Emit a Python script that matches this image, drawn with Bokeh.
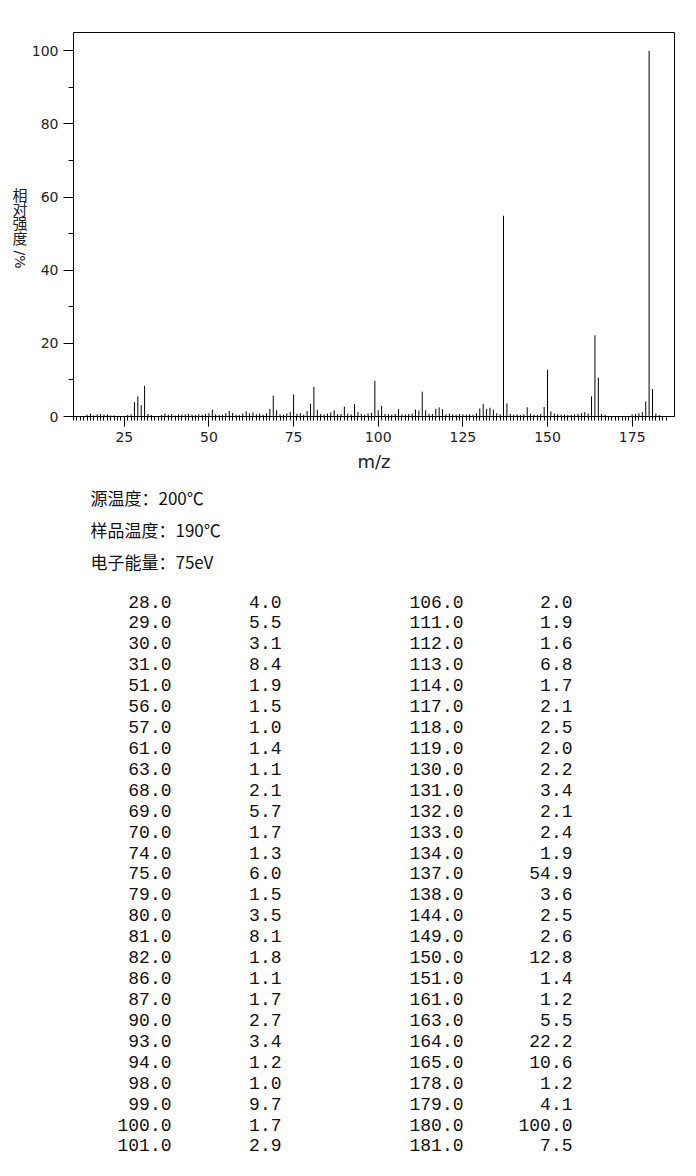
from bokeh.plotting import figure
from bokeh.models import Range1d, FixedTicker, ColumnDataSource
from bokeh.layouts import column, row
from bokeh.core.properties import value
from bokeh.embed import file_html
from bokeh.resources import INLINE

# ---- data ----
# listed peaks (m/z, relative intensity %)
mz_left = [28.0, 29.0, 30.0, 31.0, 51.0, 56.0, 57.0, 61.0, 63.0, 68.0, 69.0, 70.0, 74.0, 75.0,
           79.0, 80.0, 81.0, 82.0, 86.0, 87.0, 90.0, 93.0, 94.0, 98.0, 99.0, 100.0, 101.0]
int_left = [4.0, 5.5, 3.1, 8.4, 1.9, 1.5, 1.0, 1.4, 1.1, 2.1, 5.7, 1.7, 1.3, 6.0,
            1.5, 3.5, 8.1, 1.8, 1.1, 1.7, 2.7, 3.4, 1.2, 1.0, 9.7, 1.7, 2.9]
mz_right = [106.0, 111.0, 112.0, 113.0, 114.0, 117.0, 118.0, 119.0, 130.0, 131.0, 132.0, 133.0, 134.0, 137.0,
            138.0, 144.0, 149.0, 150.0, 151.0, 161.0, 163.0, 164.0, 165.0, 178.0, 179.0, 180.0, 181.0]
int_right = [2.0, 1.9, 1.6, 6.8, 1.7, 2.1, 2.5, 2.0, 2.2, 3.4, 2.1, 2.4, 1.9, 54.9,
             3.6, 2.5, 2.6, 12.8, 1.4, 1.2, 5.5, 22.2, 10.6, 1.2, 4.1, 100.0, 7.5]

# small unlisted peaks (< 1 %)
mz_minor = [14, 15, 16, 17, 18, 19, 20, 21, 22, 26, 27, 32, 33, 36, 37, 38, 39, 40, 41, 42, 43, 44,
            45, 46, 47, 48, 49, 50, 52, 53, 54, 55, 58, 59, 60, 62, 64, 65, 66, 67, 71, 72, 73, 76,
            77, 78, 83, 84, 85, 88, 89, 91, 92, 95, 96, 97, 102, 103, 104, 105, 107, 108, 109, 110,
            115, 116, 120, 121, 122, 123, 124, 125, 126, 127, 128, 129, 135, 136, 139, 140, 141,
            142, 143, 145, 146, 147, 148, 152, 153, 154, 155, 156, 157, 158, 159, 160, 162, 166,
            167, 175, 176, 177, 182, 183]
int_minor = [0.5, 0.8, 0.3, 0.6, 0.7, 0.5, 0.6, 0.3, 0.3, 0.4, 0.6, 0.7, 0.4, 0.4, 0.8, 0.5, 0.7, 0.3,
             0.6, 0.5, 0.6, 0.7, 0.5, 0.4, 0.6, 0.5, 0.7, 0.9, 0.6, 0.4, 0.5, 0.9, 0.5, 0.4, 0.8,
             0.9, 0.6, 0.8, 0.5, 0.9, 0.6, 0.5, 0.8, 0.7, 0.9, 0.5, 0.7, 0.6, 0.8, 0.6, 0.7, 0.8,
             0.6, 0.7, 0.5, 0.8, 0.7, 0.6, 0.5, 0.7, 0.6, 0.5, 0.7, 0.8, 0.8, 0.7, 0.6, 0.8, 0.6,
             0.5, 0.7, 0.6, 0.5, 0.6, 0.5, 0.9, 0.9, 0.6, 0.7, 0.5, 0.6, 0.4, 0.6, 0.8, 0.5, 0.4,
             0.7, 0.8, 0.6, 0.5, 0.5, 0.4, 0.5, 0.6, 0.7, 0.9, 0.8, 0.7, 0.5, 0.6, 0.7, 0.9, 0.8, 0.4]

x_major_ticks = [25, 50, 75, 100, 125, 150, 175]
y_major_ticks = [0, 20, 40, 60, 80, 100]
info_lines = ["源温度：200℃", "样品温度：190℃", "电子能量：75eV"]
y_label_chars = ["相", "对", "强", "度"]
y_label_tail = "/%"
x_label = "m/z"

# ---- layout constants (page pixels) ----
LEFT, RIGHT, TOP, BOTTOM = 73, 674, 32, 416
FIG_W = 690
P_H = 478
LW = 28          # width of the narrow panel holding the vertical y label
Y0, Y1 = 0, 105

# ---- y-label panel (shares the spectrum's y scale) ----
lab = figure(width=LW, height=P_H, output_backend="svg", toolbar_location=None,
             x_range=Range1d(0, LW), y_range=Range1d(Y0, Y1),
             min_border_left=0, min_border_right=0, min_border_top=TOP,
             min_border_bottom=P_H - BOTTOM, x_axis_location=None, y_axis_location=None)
lab.xgrid.visible = False
lab.ygrid.visible = False
lab.outline_line_color = None
px_per_unit = (BOTTOM - TOP) / (Y1 - Y0)
char_y = [(BOTTOM - (194 + i * 14.2)) / px_per_unit for i in range(len(y_label_chars))]
lab.text(x=[19.5] * len(y_label_chars), y=char_y, text=y_label_chars,
         text_font=value("Noto Sans CJK SC"), text_font_size="15px",
         text_align="center", text_baseline="middle", text_color="#222222")
lab.text(x=[19.5], y=[(BOTTOM - 259) / px_per_unit], text=[y_label_tail], angle=-1.5708,
         text_font=value("DejaVu Sans"), text_font_size="14px",
         text_align="center", text_baseline="middle", text_color="#222222")

# ---- spectrum figure ----
p = figure(width=FIG_W - LW, height=P_H, output_backend="svg", toolbar_location=None,
           x_range=Range1d(10, 187.5), y_range=Range1d(Y0, Y1),
           min_border_left=LEFT - LW, min_border_right=FIG_W - RIGHT, min_border_top=TOP,
           min_border_bottom=P_H - BOTTOM)
p.xgrid.visible = False
p.ygrid.visible = False
p.outline_line_color = "black"
p.outline_line_alpha = 1.0
p.background_fill_color = "white"
p.border_fill_color = "white"

all_mz = mz_left + mz_right + mz_minor
all_int = int_left + int_right + int_minor
src = ColumnDataSource(dict(x=all_mz, top=all_int, bottom=[0] * len(all_mz)))
p.segment(x0="x", y0="bottom", x1="x", y1="top", source=src, line_color="black", line_width=1)

p.xaxis.ticker = FixedTicker(ticks=x_major_ticks, minor_ticks=list(range(10, 186)))
p.yaxis.ticker = FixedTicker(ticks=y_major_ticks, minor_ticks=[10, 30, 50, 70, 90])
for ax in (p.xaxis[0], p.yaxis[0]):
    ax.axis_line_color = "black"
    ax.major_tick_line_color = "black"
    ax.minor_tick_line_color = "black"
    ax.major_tick_in = 0
    ax.minor_tick_in = 0
    ax.major_tick_out = 10
    ax.major_label_text_font = "DejaVu Sans"
    ax.major_label_text_font_size = "14px"
    ax.major_label_text_color = "#222222"
    ax.major_label_standoff = 5
p.xaxis.minor_tick_out = 4
p.yaxis.minor_tick_out = 5
p.xaxis.axis_label = x_label
p.xaxis.axis_label_text_font = "DejaVu Sans"
p.xaxis.axis_label_text_font_size = "18px"
p.xaxis.axis_label_text_font_style = "normal"
p.xaxis.axis_label_text_color = "#222222"
p.xaxis.axis_label_standoff = 6

# ---- text / table figure (x in page pixels) ----
Q_H = 690
q = figure(width=FIG_W, height=Q_H, output_backend="svg", toolbar_location=None,
           x_range=Range1d(LEFT, RIGHT), y_range=Range1d(Q_H, 0),
           min_border_left=LEFT, min_border_right=FIG_W - RIGHT, min_border_top=0,
           min_border_bottom=0, x_axis_location=None, y_axis_location=None)
q.xgrid.visible = False
q.ygrid.visible = False
q.outline_line_color = None

info_src = ColumnDataSource(dict(x=[90] * len(info_lines),
                                 y=[19 + 32 * i for i in range(len(info_lines))],
                                 t=info_lines))
q.text(x="x", y="y", text="t", source=info_src, text_font=value("Noto Sans CJK SC"),
       text_font_size="17px", text_baseline="middle", text_align="left", text_color="#111111")

rows = len(mz_left)
row_y = [123 + 20.92 * i for i in range(rows)]
col_x = [171, 281, 463, 572]
cols = [mz_left, int_left, mz_right, int_right]
for cx, vals in zip(col_x, cols):
    s = ColumnDataSource(dict(x=[cx] * rows, y=row_y, t=["%.1f" % v for v in vals]))
    q.text(x="x", y="y", text="t", source=s, text_font=value("Liberation Mono"),
           text_font_size="18px", text_baseline="middle", text_align="right", text_color="#111111")

layout = column(row(lab, p, spacing=0), q, spacing=0)
open("out.html", "w").write(file_html(layout, INLINE))
